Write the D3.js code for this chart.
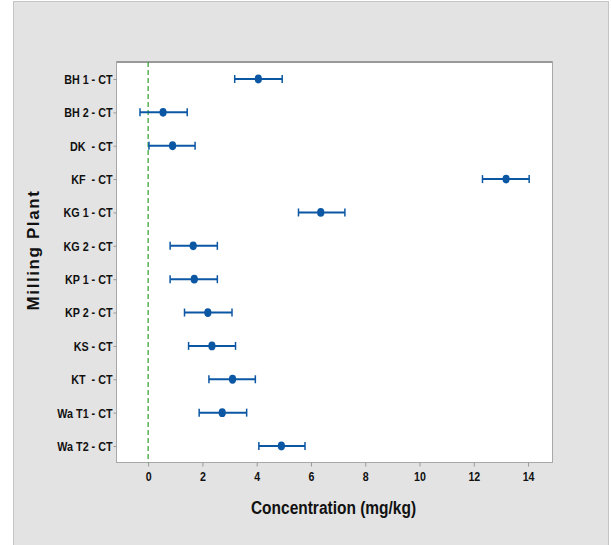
<!DOCTYPE html>
<html>
<head>
<meta charset="utf-8">
<script src="https://cdn.jsdelivr.net/npm/d3@7"></script>
<style>
  body { margin: 0; background: #fff; }
  svg text { font-family: "Liberation Sans Narrow", "Liberation Sans", Arial, sans-serif; font-weight: bold; fill: #111; }
</style>
</head>
<body>
<svg id="chart" width="611" height="545"></svg>
<script>
// plants, top to bottom
const plants = ["BH 1 - CT", "BH 2 - CT", "DK  - CT", "KF  - CT", "KG 1 - CT", "KG 2 - CT",
                "KP 1 - CT", "KP 2 - CT", "KS - CT", "KT  - CT", "Wa T1 - CT", "Wa T2 - CT"];
const means = [4.06, 0.55, 0.90, 13.19, 6.36, 1.66, 1.70, 2.20, 2.35, 3.11, 2.73, 4.91];
const lower = [3.19, -0.30, 0.03, 12.32, 5.54, 0.81, 0.81, 1.34, 1.49, 2.24, 1.88, 4.08];
const upper = [4.94, 1.44, 1.73, 14.04, 7.25, 2.55, 2.55, 3.09, 3.22, 3.95, 3.63, 5.78];
const xticks = [0, 2, 4, 6, 8, 10, 12, 14];

const svg = d3.select('#chart');

// squeeze a text element horizontally, the reference uses a narrow face
function condense(sel, f) {
  sel.each(function() {
    const len = this.getComputedTextLength();
    d3.select(this)
      .attr('textLength', len * f)
      .attr('lengthAdjust', "spacingAndGlyphs");
  });
}

// grey panel
svg.append('rect')
  .attr('x', 13.5).attr('y', 1.5)
  .attr('width', 595).attr('height', 550)
  .attr('fill', "#e3e3e3")
  .attr('stroke', "#c4c4c4")
  .attr('stroke-width', 1);

const plot = { left: 116.5, top: 62, right: 552.5, bottom: 462.5 };

const x = d3.scaleLinear()
  .domain([-1.166, 14.9])
  .range([plot.left, plot.right]);

const y = d3.scalePoint()
  .domain(plants)
  .range([79, 446]);

// plot area
svg.append('rect')
  .attr('x', plot.left).attr('y', plot.top)
  .attr('width', plot.right - plot.left)
  .attr('height', plot.bottom - plot.top)
  .attr('fill', "#fff")
  .attr('stroke', "#a8a8a8")
  .attr('stroke-width', 1);

svg.append('line')
  .attr('x1', plot.left).attr('x2', plot.right)
  .attr('y1', plot.top).attr('y2', plot.top)
  .attr('stroke', "#999").attr('stroke-width', 2);

// axes
const xAxis = svg.append('g')
  .attr('transform', `translate(0,${plot.bottom})`)
  .call(d3.axisBottom(x).tickValues(xticks).tickSize(4).tickPadding(6));

const yAxis = svg.append('g')
  .attr('transform', `translate(${plot.left},0)`)
  .call(d3.axisLeft(y).tickSize(3).tickPadding(1));

[xAxis, yAxis].forEach(a => {
  a.select('.domain').remove();
  a.selectAll('.tick line').attr('stroke', "#999");
  a.selectAll('.tick text').attr('font-size', 12.5).style('fill', "#111")
    .attr('font-family', '"Liberation Sans Narrow", "Liberation Sans", Arial, sans-serif');
});
yAxis.selectAll('.tick text').attr('xml:space', "preserve").attr('dy', "0.35em");
condense(yAxis.selectAll('.tick text'), 0.86);
condense(xAxis.selectAll('.tick text'), 0.85);

// reference line at zero
svg.append('line')
  .attr('x1', x(0)).attr('x2', x(0))
  .attr('y1', plot.top).attr('y2', plot.bottom)
  .attr('stroke', "#2ca02c")
  .attr('stroke-width', 1.2)
  .attr('stroke-dasharray', "5,3");

// intervals
const blue = "#0b57a4";
const g = svg.append('g');

plants.forEach((p, i) => {
  const yy = y(p);
  g.append('line')
    .attr('x1', x(lower[i])).attr('x2', x(upper[i]))
    .attr('y1', yy).attr('y2', yy)
    .attr('stroke', blue).attr('stroke-width', 2);

  [lower[i], upper[i]].forEach(v => {
    g.append('line')
      .attr('x1', x(v)).attr('x2', x(v))
      .attr('y1', yy - 4).attr('y2', yy + 4)
      .attr('stroke', blue).attr('stroke-width', 1.5);
  });

  g.append('ellipse')
    .attr('cx', x(means[i])).attr('cy', yy)
    .attr('rx', 3.6).attr('ry', 4.4)
    .attr('fill', blue);
});

// titles
const xt = svg.append('text')
  .attr('x', (plot.left + plot.right) / 2 - 1)
  .attr('y', 514)
  .attr('text-anchor', "middle")
  .attr('font-size', 18)
  .text("Concentration (mg/kg)");
condense(xt, 0.86);

const yt = svg.append('text')
  .attr('transform', `translate(39,250) rotate(-90)`)
  .attr('text-anchor', "middle")
  .attr('font-size', 17)
  .attr('font-family', '"Liberation Sans", Arial, sans-serif')
  .attr('letter-spacing', 1.6)
  .text("Milling Plant");
</script>
</body>
</html>
